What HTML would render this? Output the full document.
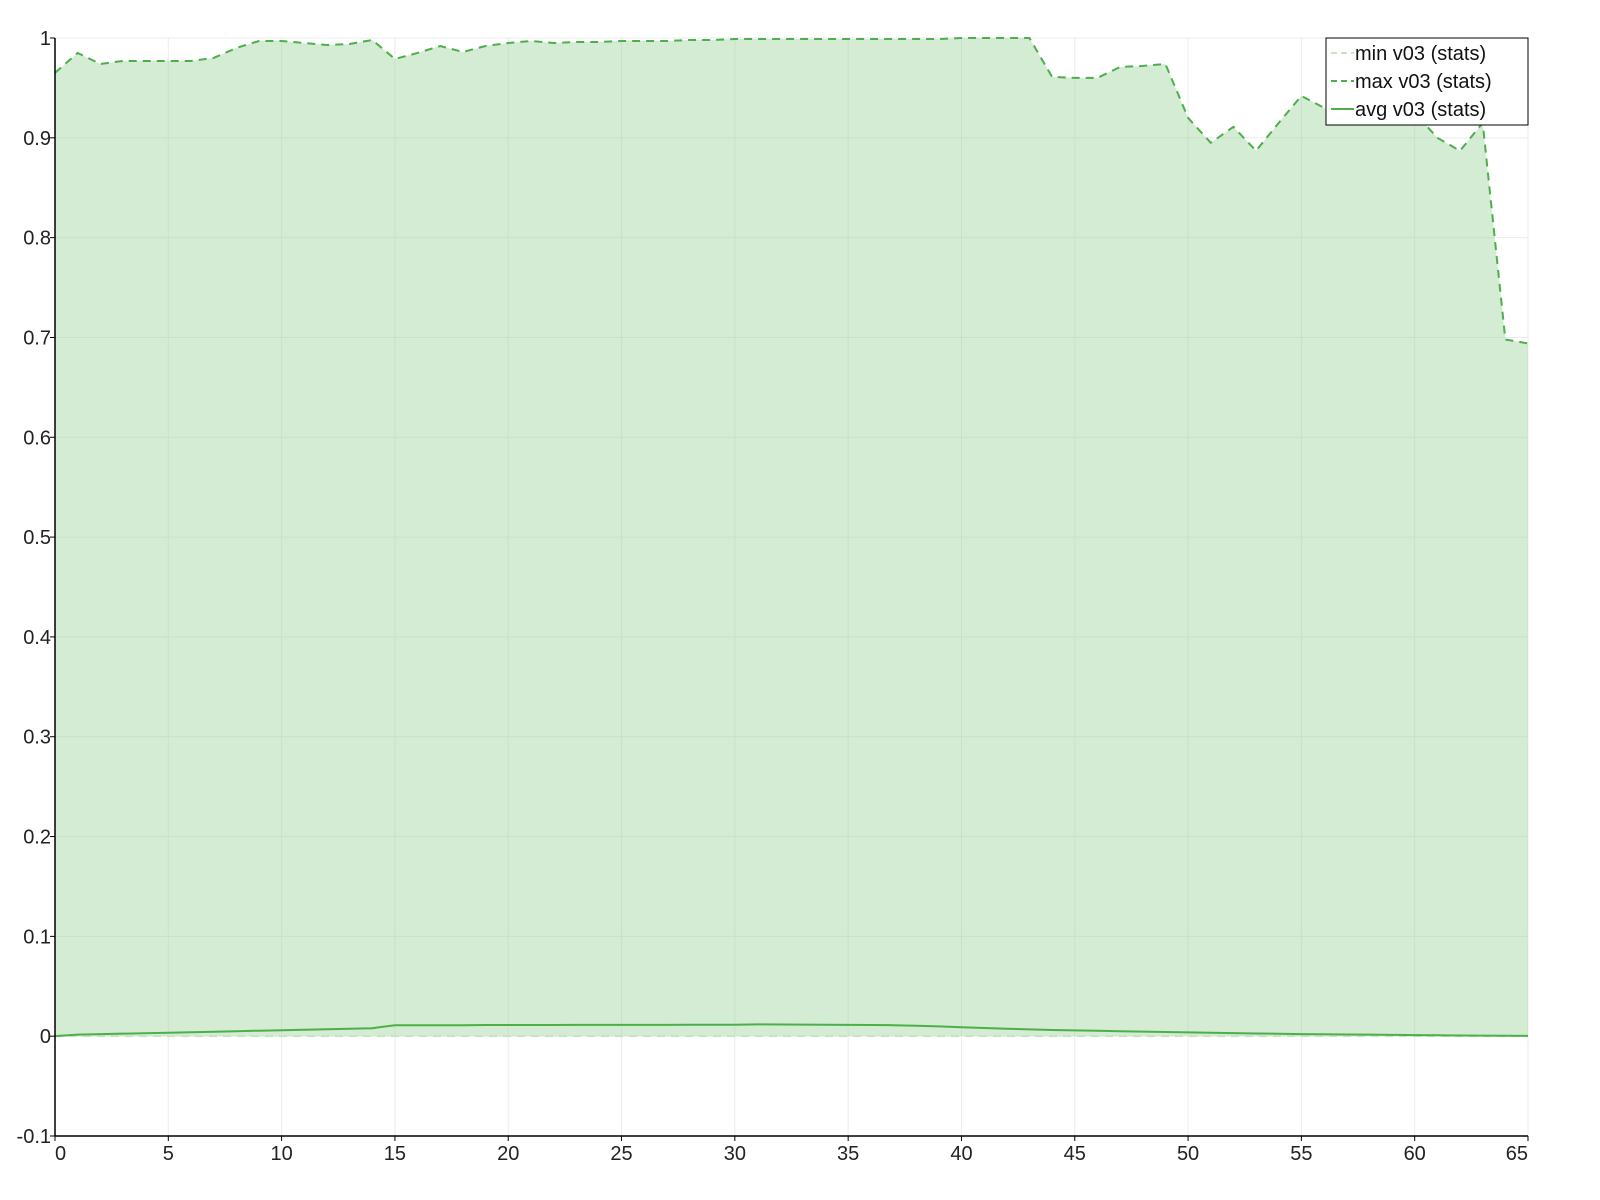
<!DOCTYPE html>
<html><head><meta charset="utf-8"><style>
html,body{margin:0;padding:0;background:#fff;}
svg{display:block;font-family:"Liberation Sans",sans-serif;}
</style></head><body>
<svg id="chart" width="1600" height="1200"></svg>
<script>
const xTicks=[0,5,10,15,20,25,30,35,40,45,50,55,60,65];
const yTicks=[-0.1,0,0.1,0.2,0.3,0.4,0.5,0.6,0.7,0.8,0.9,1];
const yTickLabels=["-0.1","0","0.1","0.2","0.3","0.4","0.5","0.6","0.7","0.8","0.9","1"];
const maxVals=[0.965,0.985,0.974,0.977,0.977,0.977,0.977,0.98,0.99,0.997,0.997,0.995,0.993,0.994,0.998,0.979,0.985,0.992,0.986,0.992,0.995,0.997,0.995,0.996,0.996,0.997,0.997,0.997,0.998,0.998,0.999,0.999,0.999,0.999,0.999,0.999,0.999,0.999,0.999,0.999,1.0,1.0,1.0,1.0,0.961,0.96,0.96,0.971,0.972,0.974,0.92,0.895,0.911,0.887,0.915,0.942,0.93,0.915,0.92,0.925,0.925,0.9,0.887,0.915,0.698,0.694];
const avgVals=[0,0.0015,0.002,0.0025,0.003,0.0035,0.004,0.0045,0.005,0.0055,0.006,0.0065,0.007,0.0075,0.008,0.011,0.011,0.011,0.011,0.0112,0.0112,0.0112,0.0112,0.0113,0.0113,0.0113,0.0113,0.0113,0.0114,0.0114,0.0115,0.0118,0.0117,0.0116,0.0115,0.0113,0.0112,0.011,0.0105,0.0098,0.009,0.0082,0.0075,0.0068,0.0062,0.0058,0.0054,0.005,0.0046,0.0042,0.0038,0.0034,0.003,0.0027,0.0024,0.0021,0.0019,0.0017,0.0015,0.0013,0.0011,0.0009,0.0007,0.0005,0.0004,0.0003];
const minVals=maxVals.map(()=>0);

const X0=55,X1=1528,Y0=1136,Y1=38;
const sx=v=>X0+(v-0)/(65-0)*(X1-X0);
const sy=v=>Y0-(v+0.1)/(1.1)*(Y0-Y1);
const svg=document.getElementById('chart');
const NS='http://www.w3.org/2000/svg';
function mk(t,a,p){const e=document.createElementNS(NS,t);for(const k in a)e.setAttribute(k,a[k]);(p||svg).appendChild(e);return e;}

// grid
xTicks.forEach(t=>{const l=mk('line',{x1:sx(t),x2:sx(t),y1:Y1,y2:Y0,stroke:'#ebebeb','stroke-width':1});

});
yTicks.forEach(t=>{const l=mk('line',{x1:X0,x2:X1,y1:sy(t),y2:sy(t),stroke:'#ebebeb','stroke-width':1});

});

// fill area between min and max
let d='M'+maxVals.map((v,i)=>sx(i)+','+sy(v)).join('L');
for(let i=minVals.length-1;i>=0;i--)d+='L'+sx(i)+','+sy(minVals[i]);
const area=mk('path',{d:d+'Z',fill:'rgba(160,210,160,0.45)',stroke:'none'});



function line(vals,color,dash,w,name){
 const p=mk('polyline',{points:vals.map((v,i)=>sx(i)+','+sy(v)).join(' '),fill:'none',stroke:color,'stroke-width':w,'stroke-dasharray':dash});
 
 
}
line(minVals,'#c5e6c5','8,6',2,'min-series-line');
line(maxVals,'#4daf4a','8,6',2,'max-series-line');
line(avgVals,'#4daf4a','none',2,'avg-series-line');

// axes
const ax=mk('line',{x1:X0,x2:X1,y1:Y0,y2:Y0,stroke:'#000','stroke-width':1.5});


const ay=mk('line',{x1:X0,x2:X0,y1:Y1,y2:Y0,stroke:'#000','stroke-width':1.5});


xTicks.forEach(t=>{
 mk('line',{x1:sx(t),x2:sx(t),y1:Y0,y2:Y0+5,stroke:'#000'});
 const tx=mk('text',{x:sx(t),y:Y0+24,'text-anchor':t===0?'start':(t===65?'end':'middle'),'font-size':20,fill:'#222'});
 tx.textContent=t;
 
 
});
yTicks.forEach((t,i)=>{
 mk('line',{x1:X0-5,x2:X0,y1:sy(t),y2:sy(t),stroke:'#000'});
 const tx=mk('text',{x:X0-4,y:sy(t)+7,'text-anchor':'end','font-size':20,fill:'#222'});
 tx.textContent=yTickLabels[i];
 
 
});

// legend
const lg=mk('g',{});


mk('rect',{x:1326,y:38,width:202,height:87,fill:'#fff',stroke:'#000','stroke-width':1},lg);
const items=[['min v03 (stats)','#c5e6c5','6,4'],['max v03 (stats)','#4daf4a','6,4'],['avg v03 (stats)','#4daf4a','none']];
items.forEach((it,i)=>{
 const y=53+i*28;
 mk('line',{x1:1331,x2:1354,y1:y,y2:y,stroke:it[1],'stroke-width':2,'stroke-dasharray':it[2]},lg);
 const t=mk('text',{x:1355,y:y+7,'font-size':20,fill:'#111'},lg);
 t.textContent=it[0];
 
 
});
</script>
</body></html>
